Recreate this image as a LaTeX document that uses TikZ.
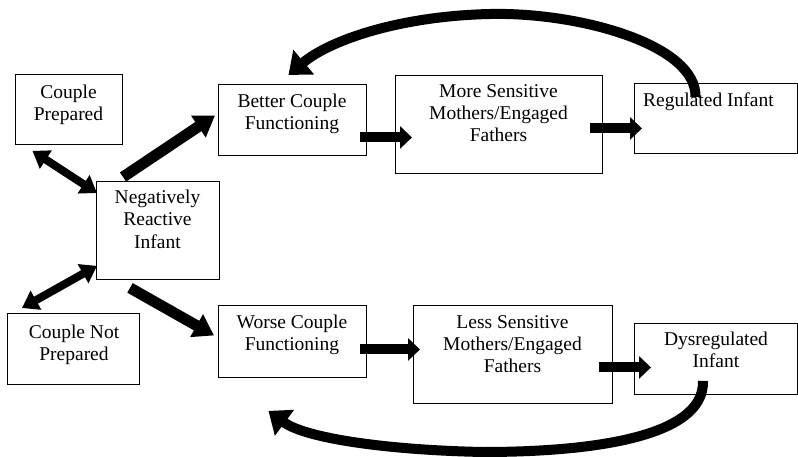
\documentclass[tikz,border=0pt]{standalone}
\usepackage{fontspec}
\setmainfont{Liberation Serif}
\usetikzlibrary{arrows.meta,calc}
\begin{document}
\begin{tikzpicture}[x=1pt,y=-1pt,
  box/.style={draw,line width=0.9pt,rectangle,inner sep=0pt,anchor=north west},
  lbl/.style={align=center,anchor=base,inner sep=0pt,font=\fontsize{19.5}{22}\selectfont},
  fwd/.style={line width=10pt,-{Triangle[length=12pt,width=22pt]}},
  diag/.style={line width=11pt,-{Triangle[length=20pt,width=25pt]}},
  dbl/.style={line width=8pt,{Triangle[length=16pt,width=21pt]}-{Triangle[length=16pt,width=21pt]}},
  curv/.style={line width=10pt,-{Triangle[length=20pt,width=31pt]}}]
\useasboundingbox (0,0) rectangle (798,457);
% boxes
\node[box,minimum width=107pt,minimum height=70pt] (cp) at (15,74) {};
\node[box,minimum width=123pt,minimum height=98pt] (nri) at (96,181) {};
\node[box,minimum width=132pt,minimum height=71pt] (cnp) at (7,313) {};
\node[box,minimum width=148pt,minimum height=71pt] (bcf) at (218,84) {};
\node[box,minimum width=207pt,minimum height=98pt] (msm) at (395,75) {};
\node[box,minimum width=163pt,minimum height=70pt] (reg) at (634,83) {};
\node[box,minimum width=148pt,minimum height=72pt] (wcf) at (218,305) {};
\node[box,minimum width=199pt,minimum height=98pt] (lsm) at (413,305) {};
\node[box,minimum width=163pt,minimum height=71pt] (dys) at (634,323) {};
% labels (anchor at baseline of last line)
\node[lbl] (cpt) at (68.5,121) {Couple\\Prepared};
\node[lbl] (nrit) at (157.5,248) {Negatively\\Reactive\\Infant};
\node[lbl] (cnpt) at (74,360) {Couple Not\\Prepared};
\node[lbl] (bcft) at (292,130) {Better Couple\\Functioning};
\node[lbl] (msmt) at (498.5,142) {More Sensitive\\Mothers/Engaged\\Fathers};
\node[lbl,anchor=base west] (regt) at (643,107) {Regulated Infant};
\node[lbl] (wcft) at (292,350) {Worse Couple\\Functioning};
\node[lbl] (lsmt) at (512.5,372) {Less Sensitive\\Mothers/Engaged\\Fathers};
\node[lbl] (dyst) at (716,367) {Dysregulated\\Infant};
% straight arrows
\draw[fwd] ([shift={(-7,17.5)}]bcf.east) -- ([shift={(17,13)}]msm.west);
\draw[fwd] ([shift={(-13,4)}]msm.east) -- ([shift={(8,10)}]reg.west);
\draw[fwd] ([shift={(-7,8)}]wcf.east) -- ([shift={(7,-5)}]lsm.west);
\draw[fwd] ([shift={(-14,13)}]lsm.east) -- ([shift={(17,8.5)}]dys.west);
% diagonal arrows
\draw[dbl] ([shift={(-36.5,6)}]cp.south) -- ([shift={(1,12)}]nri.north west);
\draw[diag] ([shift={(27,-4)}]nri.north west) -- ([shift={(-3,-4.5)}]bcf.west);
\draw[dbl] ([shift={(1,-14)}]nri.south west) -- ([shift={(15,-5)}]cnp.north west);
\draw[diag] ([shift={(34,8)}]nri.south west) -- ([shift={(-4,-6)}]wcf.west);
% feedback curves
\draw[curv] ([shift={(-20.5,14)}]reg.north) .. controls (697,45) and (580,12) .. (490,14)
  .. controls (400,16) and (330,40) .. ([shift={(-4,-9)}]bcf.north);
\draw[curv] ([shift={(-13,-14)}]dys.south) .. controls (705,440) and (580,452) .. (483,452)
  .. controls (385,450) and (305,438) .. ([shift={(-24,33)}]wcf.south);
\end{tikzpicture}
\end{document}
